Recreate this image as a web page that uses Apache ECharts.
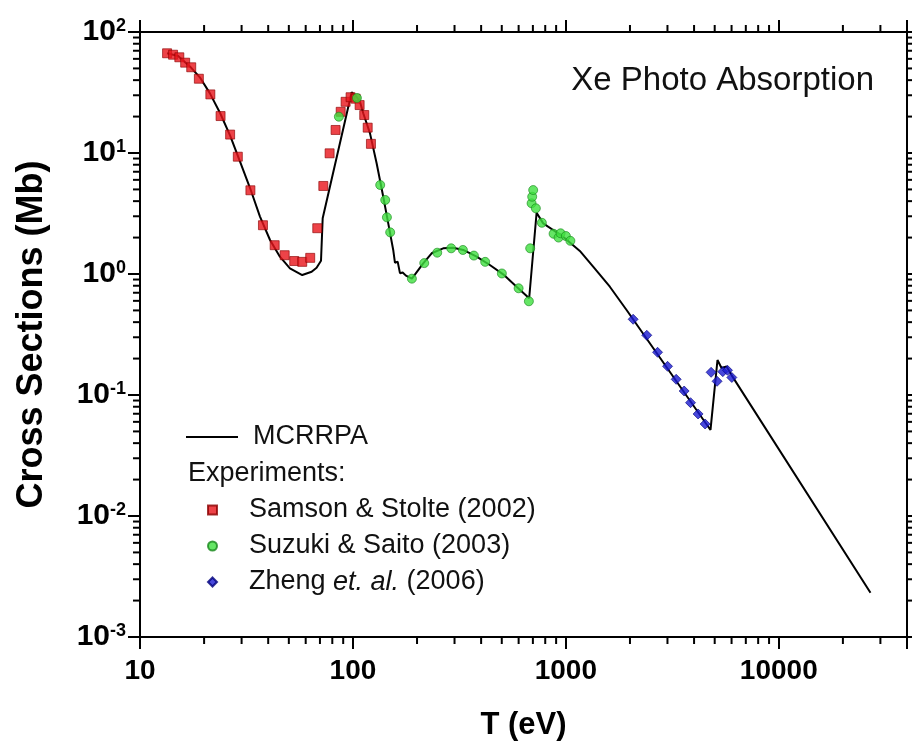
<!DOCTYPE html>
<html>
<head>
<meta charset="utf-8">
<script src="https://cdn.jsdelivr.net/npm/echarts@6/dist/echarts.min.js"></script>
<style>html,body{margin:0;padding:0;background:#fff}#chart{width:912px;height:743px}</style>
</head>
<body>
<div id="chart"></div>
<script>
// ---- Data ----
const mcrrpaT = [13.4, 15.1, 17.2, 19.1, 21.3, 23.8, 26.5, 29.5, 32.9, 36.6, 40.8, 45.4, 50.6, 57.8, 64.0, 67.5, 70.8, 72.1,
  98.6, 103.3, 107.9, 111.8, 120.2, 129.2, 138.8, 146.5, 154.6, 157.5, 162.2, 166.3, 171.2, 177.4, 189.2, 213.8, 234.2,
  265.4, 295.8, 329.6, 381, 439.6, 507.7, 586.8, 672.5, 728.6, 782.6, 971, 1163, 1343, 1609, 1928, 4778, 5153, 5383, 5683, 5998, 26950];
const mcrrpaSigma = [66.7, 63.4, 51.7, 42.2, 31.1, 21.3, 13.9, 8.47, 5.11, 2.98, 1.91, 1.39, 1.114, 0.981, 1.045, 1.126, 1.288, 2.89,
  31.8, 29.6, 26.5, 21.3, 14.6, 8.22, 4.35, 2.62, 1.58, 1.24, 1.265, 1.016, 1.03, 0.97, 0.915, 1.226, 1.483,
  1.63, 1.65, 1.58, 1.39, 1.187, 0.994, 0.785, 0.630, 3.21, 2.62, 2.03, 1.55, 1.15, 0.785, 0.504, 0.0514, 0.1946, 0.167, 0.172, 0.146, 0.00232];

const samsonT = [13.4, 14.3, 15.3, 16.3, 17.4, 18.9, 21.4, 23.9, 26.5, 28.8, 33.0, 37.8, 42.9, 47.8, 53.0, 57.8, 63.0, 68.0,
  72.6, 77.7, 82.9, 87.6, 92.4, 97.5, 103.0, 107.5, 113.0, 117.3, 121.5];
const samsonSigma = [66.7, 64.9, 61.8, 55.8, 51.1, 41.1, 30.5, 20.2, 14.2, 9.32, 4.92, 2.53, 1.73, 1.43, 1.28, 1.26, 1.36, 2.39,
  5.34, 9.94, 15.5, 21.9, 26.5, 28.9, 28.1, 24.9, 20.6, 16.2, 11.9];

const suzukiT = [85.9, 104.4, 134.3, 141.8, 144.4, 149.6, 189.2, 216.2, 248.8, 289.4, 328.4, 369.9, 417.9, 500.6, 599.8,
  670.4, 679.9, 690.2, 694.8, 702.3, 722.8, 771.3, 875.7, 924, 944.6, 1000, 1050];
const suzukiSigma = [19.95, 28.5, 5.44, 4.09, 2.94, 2.21, 0.915, 1.23, 1.50, 1.63, 1.58, 1.42, 1.26, 1.01, 0.762,
  0.595, 1.63, 3.84, 4.35, 4.94, 3.49, 2.65, 2.15, 2.0, 2.17, 2.06, 1.88];

const zhengT = [2070, 2399, 2695, 3003, 3296, 3593, 3850, 4178, 4508, 4809, 5130, 5459, 5742, 6018];
const zhengSigma = [0.4225, 0.3115, 0.2254, 0.1726, 0.1348, 0.1079, 0.0864, 0.0697, 0.0576, 0.154, 0.1298, 0.156, 0.160, 0.1396];

const seriesNames = ['MCRRPA', 'Samson & Stolte (2002)', 'Suzuki & Saito (2003)', 'Zheng et. al. (2006)'];
const xRange = [10, 40000];
const yRange = [0.001, 100];
const xTickExponents = [1, 2, 3, 4];
const yTickExponents = [-3, -2, -1, 0, 1, 2];

// ---- helpers ----
const zip = (a, b) => a.map((v, i) => [v, b[i]]);
function minorValues(exps, max) {
  const out = [];
  exps.forEach(e => {
    const d = Math.pow(10, e);
    for (let k = 2; k <= 9; k++) { const v = k * d; if (v < max * 0.9999) out.push(v); }
  });
  return out;
}
const xMinor = minorValues(xTickExponents, xRange[1]).map(v => [v, 1]);
const yMinor = minorValues(yTickExponents.slice(0, -1), yRange[1]).map(v => [100, v]);

const FONT = '"Liberation Sans", Arial, Helvetica, sans-serif';
const isPow10 = v => Math.abs(Math.log10(v) - Math.round(Math.log10(v))) < 1e-6;

const chart = echarts.init(document.getElementById('chart'), null, { renderer: 'canvas' });

const axisCommon = {
  type: 'log', logBase: 10,
  axisLine: { show: true, onZero: false, lineStyle: { color: '#000', width: 2 } },
  axisTick: { show: true, inside: false, length: 12, lineStyle: { color: '#000', width: 2 } },
  splitLine: { show: false },
  minorTick: { show: false }
};

const option = {
  animation: false,
  backgroundColor: '#fff',
  title: {
    text: 'Xe Photo Absorption', right: 38, top: 64, padding: 0,
    textStyle: { fontFamily: FONT, fontSize: 33, fontWeight: 'normal', color: '#111' }
  },
  grid: { left: 140, right: 5, top: 32, bottom: 106, containLabel: false, outerBoundsMode: 'none' },
  xAxis: [
    Object.assign({}, axisCommon, {
      position: 'bottom', min: xRange[0], max: xRange[1],
      name: 'T (eV)', nameLocation: 'middle', nameGap: 73,
      nameTextStyle: { fontFamily: FONT, fontSize: 31, fontWeight: 'bold', color: '#000' },
      axisLabel: {
        margin: 20, fontFamily: FONT, fontSize: 28, fontWeight: 'bold', color: '#000',
        formatter: v => isPow10(v) ? String(Math.round(v)) : ''
      }
    }),
    Object.assign({}, axisCommon, {
      position: 'top', min: xRange[0], max: xRange[1], axisLabel: { show: false }
    })
  ],
  yAxis: [
    Object.assign({}, axisCommon, {
      position: 'left', min: yRange[0], max: yRange[1],
      name: 'Cross Sections (Mb)', nameLocation: 'middle', nameGap: 90, nameRotate: 90,
      nameTextStyle: { fontFamily: FONT, fontSize: 36, fontWeight: 'bold', color: '#000' },
      axisLabel: {
        margin: 14, color: '#000',
        formatter: v => isPow10(v) ? '{b|10}{s|' + Math.round(Math.log10(v)) + '}' : '',
        rich: {
          b: { fontFamily: FONT, fontSize: 30, fontWeight: 'bold', color: '#000', lineHeight: 30 },
          s: { fontFamily: FONT, fontSize: 18, fontWeight: 'bold', color: '#000', verticalAlign: 'top', lineHeight: 16 }
        }
      }
    }),
    Object.assign({}, axisCommon, {
      position: 'right', min: yRange[0], max: yRange[1], axisLabel: { show: false }
    })
  ],
  legend: [
    {
      data: [{ name: seriesNames[0], icon: 'rect' }], left: 186, top: 422, padding: 0, orient: 'vertical',
      itemWidth: 52, itemHeight: 2, selectedMode: false,
      textStyle: { fontFamily: FONT, fontSize: 27, color: '#111', lineHeight: 30, padding: [0, 0, 0, 10] }
    },
    {
      data: seriesNames.slice(1), left: 207, top: 495, padding: 0, orient: 'vertical',
      itemWidth: 9, itemHeight: 9, itemGap: 6, selectedMode: false,
      textStyle: {
        fontFamily: FONT, fontSize: 27, color: '#111', lineHeight: 30, padding: [0, 0, 0, 27],
        rich: {
          n: { fontFamily: FONT, fontSize: 27, color: '#111', lineHeight: 30 },
          i: { fontFamily: FONT, fontSize: 27, color: '#111', fontStyle: 'italic', lineHeight: 30 }
        }
      },
      formatter: name => name === seriesNames[3] ? '{n|Zheng }{i|et. al.}{n| (2006)}' : name
    }
  ],
  graphic: [
    { type: 'text', left: 188, top: 460, style: { text: 'Experiments:', font: '27px ' + FONT, fill: '#111' } }
  ],
  series: [
    {
      name: seriesNames[0], type: 'line', data: zip(mcrrpaT, mcrrpaSigma), symbol: 'none', smooth: false,
      lineStyle: { color: '#000', width: 2 }, itemStyle: { color: '#000' }, z: 3
    },
    {
      name: seriesNames[1], type: 'scatter', data: zip(samsonT, samsonSigma), symbol: 'rect', symbolSize: 9,
      itemStyle: { color: '#e8141a', borderColor: '#8a0000', borderWidth: 0.8 }, z: 4
    },
    {
      name: seriesNames[2], type: 'scatter', data: zip(suzukiT, suzukiSigma), symbol: 'circle', symbolSize: 9,
      itemStyle: { color: '#3ee03e', borderColor: '#16861a', borderWidth: 0.8 }, z: 4
    },
    {
      name: seriesNames[3], type: 'scatter', data: zip(zhengT, zhengSigma), symbol: 'diamond', symbolSize: 10,
      itemStyle: { color: '#1a1ad2', borderColor: '#00007a', borderWidth: 0.8 }, z: 4
    },
    {
      type: 'custom', name: 'xMinor', data: xMinor, clip: false, silent: true, z: 2,
      renderItem: (params, api) => {
        const cs = params.coordSys;
        const px = api.coord([api.value(0), 1])[0];
        const st = { stroke: '#000', lineWidth: 2 };
        return { type: 'group', children: [
          { type: 'line', shape: { x1: px, y1: cs.y + cs.height, x2: px, y2: cs.y + cs.height + 7 }, style: st },
          { type: 'line', shape: { x1: px, y1: cs.y, x2: px, y2: cs.y - 7 }, style: st }
        ] };
      }
    },
    {
      type: 'custom', name: 'yMinor', data: yMinor, clip: false, silent: true, z: 2,
      renderItem: (params, api) => {
        const cs = params.coordSys;
        const py = api.coord([100, api.value(1)])[1];
        const st = { stroke: '#000', lineWidth: 2 };
        return { type: 'group', children: [
          { type: 'line', shape: { x1: cs.x, y1: py, x2: cs.x - 7, y2: py }, style: st },
          { type: 'line', shape: { x1: cs.x + cs.width, y1: py, x2: cs.x + cs.width + 7, y2: py }, style: st }
        ] };
      }
    }
  ]
};
chart.setOption(option);
</script>
</body>
</html>
